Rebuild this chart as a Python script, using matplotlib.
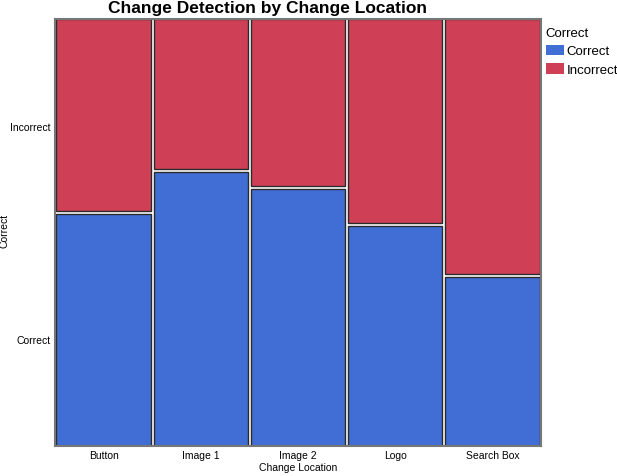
import matplotlib
matplotlib.use("Agg")
import matplotlib.pyplot as plt
from matplotlib.patches import Patch

categories = ["Button", "Image 1", "Image 2", "Logo", "Search Box"]
correct_share = [0.547, 0.645, 0.605, 0.519, 0.400]
incorrect_share = [1 - c for c in correct_share]
levels = ["Correct", "Incorrect"]

blue = "#416ED4"
red = "#CF4057"

plt.rcParams['font.family'] = ['Liberation Sans', 'DejaVu Sans']

fig = plt.figure(figsize=(6.17, 4.77), dpi=100)
ax = fig.add_axes([55/617, 1 - 447/477, 486/617, 427/477])

gap = 0.007
w = 0.97
x = list(range(len(categories)))
ax.bar(x, [c - gap/2 for c in correct_share], width=w, bottom=0, color=blue,
       edgecolor="#2a2a2a", linewidth=1.0, align="center")
ax.bar(x, [i - gap/2 for i in incorrect_share], width=w,
       bottom=[c + gap/2 for c in correct_share], color=red,
       edgecolor="#2a2a2a", linewidth=1.0, align="center")

ax.set_xlim(-0.5, len(categories) - 0.5)
ax.set_ylim(0, 1)
ax.set_xticks(x)
ax.set_xticklabels(categories, fontsize=7.5)
ax.set_yticks([0.25, 0.75])
ax.set_yticklabels(levels, fontsize=7.5)
ax.tick_params(length=0, pad=3)
ax.set_xlabel("Change Location", fontsize=7.5, labelpad=1)
for s in ax.spines.values():
    s.set_color("#777777")
    s.set_linewidth(1.5)

fig.text(267/617, 1 - 8/477, "Change Detection by Change Location", fontsize=12.5,
         fontweight="bold", ha="center", va="center")
fig.text(5/617, 0.515, "Correct", rotation=90, fontsize=7.5, ha="center", va="center")

handles = [Patch(facecolor=blue, edgecolor="none"), Patch(facecolor=red, edgecolor="none")]
leg = fig.legend(handles, levels, title="Correct", loc="upper left",
                 bbox_to_anchor=(543/617, 1 - 25/477), frameon=False, fontsize=9.5,
                 title_fontsize=9.5, handlelength=1.4, handleheight=0.85,
                 handletextpad=0.2, labelspacing=0.45, borderaxespad=0,
                 borderpad=0.2)
leg._legend_box.align = "left"

fig.savefig("out.png", dpi=100)
